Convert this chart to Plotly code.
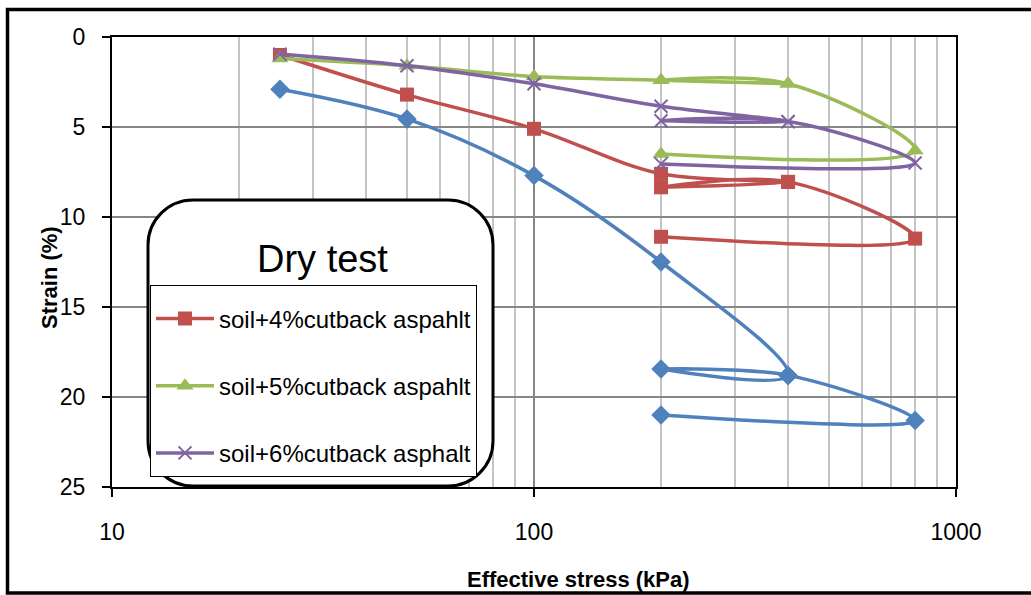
import plotly.graph_objects as go

# ---- data ----
stress = [25, 50, 100, 200, 400, 200, 400, 800, 200]
soil = [2.9, 4.55, 7.7, 12.5, 18.8, 18.45, 18.8, 21.3, 21.0]
soil4 = [1.0, 3.2, 5.1, 7.6, 8.05, 8.35, 8.05, 11.2, 11.1]
soil5 = [1.2, 1.6, 2.2, 2.4, 2.6, 2.4, 2.6, 6.3, 6.5]
soil6 = [0.95, 1.6, 2.6, 3.85, 4.7, 4.65, 4.7, 7.0, 7.05]

names = ["soil", "soil+4%cutback aspahlt", "soil+5%cutback aspahlt", "soil+6%cutback asphalt"]
x_tick_vals = [10, 100, 1000]
x_tick_text = ["10", "100", "1000"]
x_minor_vals = [k * 10 ** d for d in (1, 2) for k in range(2, 10)]
y_tick_vals = [0, 5, 10, 15, 20, 25]

FONT = "Liberation Sans, Arial, sans-serif"
W, H = 1031, 595
L, R, T, B = 112, 956, 37, 487


def px(x):
    return (x - L) / (R - L)


def py(y):
    return (B - y) / (B - T)


fig = go.Figure()

styles = [
    dict(color="#4F81BD", symbol="diamond", size=15, lw=0),
    dict(color="#C0504D", symbol="square", size=14, lw=0),
    dict(color="#9BBB59", symbol="triangle-up", size=15, lw=0),
    dict(color="#8064A2", symbol="x-thin", size=13, lw=2),
]
series = [soil, soil4, soil5, soil6]
for i, (name, ys, st) in enumerate(zip(names, series, styles)):
    fig.add_trace(go.Scatter(
        x=stress, y=ys, name=name, mode="lines+markers",
        line=dict(color=st["color"], width=3.5, shape="spline", smoothing=1),
        marker=dict(symbol=st["symbol"], size=st["size"], color=st["color"],
                    line=dict(color=st["color"], width=st["lw"])),
        showlegend=(i > 0), legendgroup=f"g{i}",
    ))

fig.update_xaxes(
    type="log", range=[1, 3], tickvals=x_tick_vals, ticktext=x_tick_text,
    showgrid=True, gridcolor="#868686", gridwidth=1.5,
    minor=dict(tickvals=x_minor_vals, showgrid=True, gridcolor="#c4c4c4", gridwidth=1.5, ticks=""),
    ticks="outside", ticklen=8, tickwidth=2, tickcolor="black",
    showline=True, linecolor="black", linewidth=2, mirror=True,
    tickfont=dict(family=FONT, size=23, color="black"), ticklabelstandoff=15,
    zeroline=False,
)
fig.update_yaxes(
    range=[25, 0], tickvals=y_tick_vals,
    showgrid=True, gridcolor="#868686", gridwidth=1.5,
    ticks="outside", ticklen=8, tickwidth=2, tickcolor="black",
    showline=True, linecolor="black", linewidth=2, mirror=True,
    tickfont=dict(family=FONT, size=23, color="black"), ticklabelstandoff=12,
    zeroline=False,
)

# rounded box behind legend
bx0, bx1, by0, by1, r = 148, 493, 200, 486, 45
k = 0.5523 * r


def P(x, y):
    return f"{px(x):.5f},{py(y):.5f}"


path = (
    f"M {P(bx0 + r, by0)} L {P(bx1 - r, by0)} "
    f"C {P(bx1 - r + k, by0)} {P(bx1, by0 + r - k)} {P(bx1, by0 + r)} "
    f"L {P(bx1, by1 - r)} "
    f"C {P(bx1, by1 - r + k)} {P(bx1 - r + k, by1)} {P(bx1 - r, by1)} "
    f"L {P(bx0 + r, by1)} "
    f"C {P(bx0 + r - k, by1)} {P(bx0, by1 - r + k)} {P(bx0, by1 - r)} "
    f"L {P(bx0, by0 + r)} "
    f"C {P(bx0, by0 + r - k)} {P(bx0 + r - k, by0)} {P(bx0 + r, by0)} Z"
)
fig.add_shape(type="path", path=path, xref="paper", yref="paper",
              fillcolor="white", line=dict(color="black", width=3), layer="above")

# outer chart border
fig.add_shape(type="rect", xref="paper", yref="paper",
              x0=px(7.5), x1=px(1040), y0=py(593), y1=py(9.5),
              line=dict(color="black", width=3.5), fillcolor="rgba(0,0,0,0)", layer="above")

fig.add_annotation(text="Dry test", xref="paper", yref="paper", x=px(322), y=py(259),
                   xanchor="center", yanchor="middle", showarrow=False,
                   font=dict(family=FONT, size=38, color="black"))
fig.add_annotation(text="<b>Strain (%)</b>", xref="paper", yref="paper", x=px(49), y=py(278),
                   xanchor="center", yanchor="middle", showarrow=False, textangle=-90,
                   font=dict(family=FONT, size=22, color="black"))
fig.add_annotation(text="<b>Effective stress (kPa)</b>", xref="paper", yref="paper", x=px(578), y=py(579),
                   xanchor="center", yanchor="middle", showarrow=False,
                   font=dict(family=FONT, size=22, color="black"))

fig.update_layout(
    width=W, height=H, autosize=False,
    margin=dict(l=L, r=W - R, t=T, b=H - B, pad=0),
    paper_bgcolor="white", plot_bgcolor="white",
    font=dict(family=FONT, color="black"),
    legend=dict(x=px(150), y=py(285), xanchor="left", yanchor="top",
                bgcolor="white", bordercolor="black", borderwidth=1,
                font=dict(family=FONT, size=24, color="black"),
                title=dict(text=" ", font=dict(size=8)),
                tracegroupgap=33, itemwidth=58,
                entrywidth=265, entrywidthmode="pixels"),
)

fig.write_html("out.html")
